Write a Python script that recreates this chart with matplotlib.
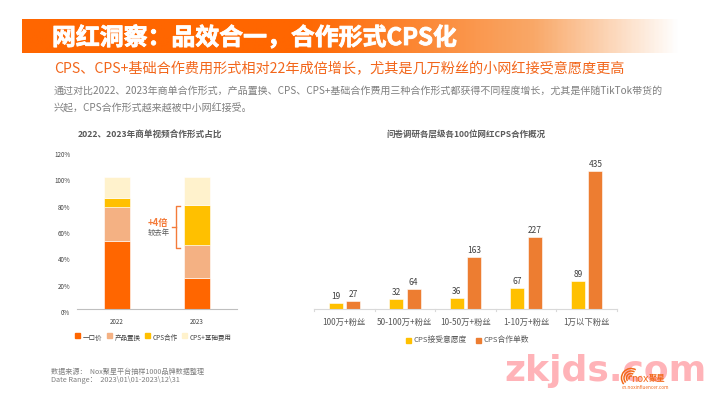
import matplotlib
matplotlib.use('Agg')
import matplotlib.pyplot as plt
import matplotlib.patheffects as pe
from matplotlib.patches import Arc, Rectangle
from matplotlib.colors import LinearSegmentedColormap
from matplotlib.transforms import ScaledTranslation
import numpy as np

plt.rcParams['font.family'] = ['Noto Sans CJK SC', 'DejaVu Sans']

# 左图数据
years = ['2022', '2023']
yikoujia = [51, 23]
zhihuan = [26, 25]
cps_share = [7, 31]
cps_plus = [16, 21]
share_ticks = [0, 20, 40, 60, 80, 100, 120]

# 右图数据
tiers = ['100万+粉丝', '50-100万+粉丝', '10-50万+粉丝', '1-10万+粉丝', '1万以下粉丝']
willing = [19, 32, 36, 67, 89]
orders = [27, 64, 163, 227, 435]

ORANGE = '#FF6600'
PEACH = '#F4B183'
YELLOW = '#FFC000'
CREAM = '#FFF2CC'
ORANGE2 = '#ED7D31'
W, H = 715, 401

fig = plt.figure(figsize=(W / 100, H / 100), dpi=100)

# 底层用像素坐标，放标题、说明文字这些
bg = fig.add_axes([0, 0, 1, 1])
bg.set_xlim(0, W)
bg.set_ylim(H, 0)
bg.axis('off')

cmap = LinearSegmentedColormap.from_list('hdr', [(0, ORANGE), (0.42, ORANGE), (0.78, '#F9A868'), (1, '#FFFFFF')])
bg.imshow(np.linspace(0, 1, 400).reshape(1, -1), cmap=cmap, extent=[22, 680, 53, 19], aspect='auto')
bg.set_xlim(0, W)
bg.set_ylim(H, 0)

bg.text(52, 38, '网红洞察：品效合一，合作形式CPS化', color='white', fontsize=17.2, fontweight='black',
        va='center', ha='left', path_effects=[pe.withStroke(linewidth=0.6, foreground='white')])
bg.text(54, 69.5, 'CPS、CPS+基础合作费用形式相对22年成倍增长，尤其是几万粉丝的小网红接受意愿度更高',
        color='#F2661B', fontsize=10.2, va='center')
bg.text(54, 90.5, '通过对比2022、2023年商单合作形式，产品置换、CPS、CPS+基础合作费用三种合作形式都获得不同程度增长，尤其是伴随TikTok带货的',
        color='#7F7F7F', fontsize=7.2, va='center')
bg.text(54, 108.5, '兴起，CPS合作形式越来越被中小网红接受。', color='#7F7F7F', fontsize=7.2, va='center')

bg.text(149.5, 134.5, '2022、2023年商单视频合作形式占比', color='#595959', fontsize=6.2, fontweight='bold', ha='center', va='center')
bg.text(465.5, 134.5, '问卷调研各层级各100位网红CPS合作概况', color='#595959', fontsize=6.1, fontweight='bold', ha='center', va='center')

# 左图
ax1 = fig.add_axes([77 / W, 1 - 308.5 / H, 160 / W, 157.8 / H])
x1 = np.array([0.0, 1.0])
bottom = np.zeros(2)
series = [(yikoujia, ORANGE, '一口价'), (zhihuan, PEACH, '产品置换'), (cps_share, YELLOW, 'CPS合作'), (cps_plus, CREAM, 'CPS+基础费用')]
for vals, col, name in series:
    ax1.bar(x1, vals, 0.32, bottom=bottom, color=col, edgecolor='white', linewidth=0.4, label=name)
    bottom += np.array(vals)
ax1.set_xlim(-0.5, 1.5)
ax1.set_ylim(0, 120)
ax1.set_xticks(x1, years)
ax1.set_yticks(share_ticks, [f'{t}%' for t in share_ticks])
ax1.tick_params(length=0)
ax1.tick_params(axis='x', labelsize=4.5, colors='#404040', pad=7)
ax1.tick_params(axis='y', labelsize=4.5, colors='#404040', pad=5)
# 参考图里 y 轴标签比刻度位置低一点
for lab in ax1.get_yticklabels():
    lab.set_transform(lab.get_transform() + ScaledTranslation(0, -3.5 / 100, fig.dpi_scale_trans))
for s in ['top', 'right', 'left']:
    ax1.spines[s].set_visible(False)
ax1.spines['bottom'].set_color('#BFBFBF')
ax1.patch.set_alpha(0)
leg_items = [(75, '一口价'), (107, '产品置换'), (145, 'CPS合作'), (182, 'CPS+基础费用')]
for (lx, name), (_, col, _n) in zip(leg_items, series):
    bg.add_patch(Rectangle((lx, 332.5), 5, 5, color=col))
    bg.text(lx + 7.5, 338, name, color='#404040', fontsize=4.7, va='center')

# 括号和 +4倍
bc = '#F47B3A'
bg.plot([180, 176, 176, 180], [206, 206, 247.5, 247.5], color=bc, lw=1)
bg.plot([172, 176], [227, 227], color=bc, lw=1)
bg.text(158, 222.7, '+4倍', color=bc, fontsize=6.8, fontweight='bold', ha='center', va='center')
bg.text(158.5, 232.5, '较去年', color='#595959', fontsize=5.3, ha='center', va='center')

# 右图
ax2 = fig.add_axes([314 / W, 1 - 309.3 / H, 303 / W, 160 / H])
x2 = np.arange(len(tiers))
bw = 0.23
b1 = ax2.bar(x2 - 0.143, willing, bw, color=YELLOW, edgecolor='white', linewidth=0.4, label='CPS接受意愿度')
b2 = ax2.bar(x2 + 0.143, orders, bw, color=ORANGE2, edgecolor='white', linewidth=0.4, label='CPS合作单数')
ax2.bar_label(b1, padding=1.5, fontsize=6, color='#404040')
ax2.bar_label(b2, padding=1.5, fontsize=6, color='#404040')
ax2.set_xlim(-0.5, 4.5)
ax2.set_ylim(0, 502)
ax2.set_yticks([])
ax2.set_xticks(x2, tiers)
ax2.tick_params(axis='x', length=0, labelsize=6.0, labelcolor='#595959', pad=6.5)
for s in ['top', 'right', 'left']:
    ax2.spines[s].set_visible(False)
ax2.spines['bottom'].set_color('#D9D9D9')
ax2.patch.set_alpha(0)
for xt in np.arange(-0.5, 5):
    ax2.plot([xt, xt], [0, -6], color='#D9D9D9', lw=0.8, clip_on=False)
bg.add_patch(Rectangle((406, 337.5), 5, 5, color=YELLOW))
bg.text(413, 340, 'CPS接受意愿度', color='#595959', fontsize=5.6, va='center')
bg.add_patch(Rectangle((476, 337.5), 5, 5, color=ORANGE2))
bg.text(483, 340, 'CPS合作单数', color='#595959', fontsize=5.6, va='center')

# 页脚
bg.text(51, 371.5, '数据来源：  Nox聚星平台抽样1000品牌数据整理', color='#7F7F7F', fontsize=5.1, va='center')
bg.text(51, 380, 'Date Range：  2023\\01\\01-2023\\12\\31', color='#7F7F7F', fontsize=5.3, va='center')

# 水印和 logo
bg.text(605, 381, 'zkjds.com', color='#FFB3B8', fontsize=26, ha='center', va='baseline',
        family=['DejaVu Sans'], fontweight='bold', zorder=3)
for d in [4, 9, 14, 19]:
    bg.add_patch(Arc((631, 378), d, d, theta1=140, theta2=300, color='#F26A1B', lw=1.1, zorder=4))
bg.text(631, 378.5, 'nox', color='#F26A1B', fontsize=7, va='center', zorder=4, family=['DejaVu Sans'])
bg.text(657.5, 378, '聚星', color='#F26A1B', fontsize=6, fontweight='bold', ha='center', va='center', zorder=4)
bg.text(645.5, 387.5, 'cn.noxinfluencer.com', color='#F26A1B', fontsize=3.4, ha='center', va='center', zorder=4)

fig.savefig('out.png', dpi=100)
